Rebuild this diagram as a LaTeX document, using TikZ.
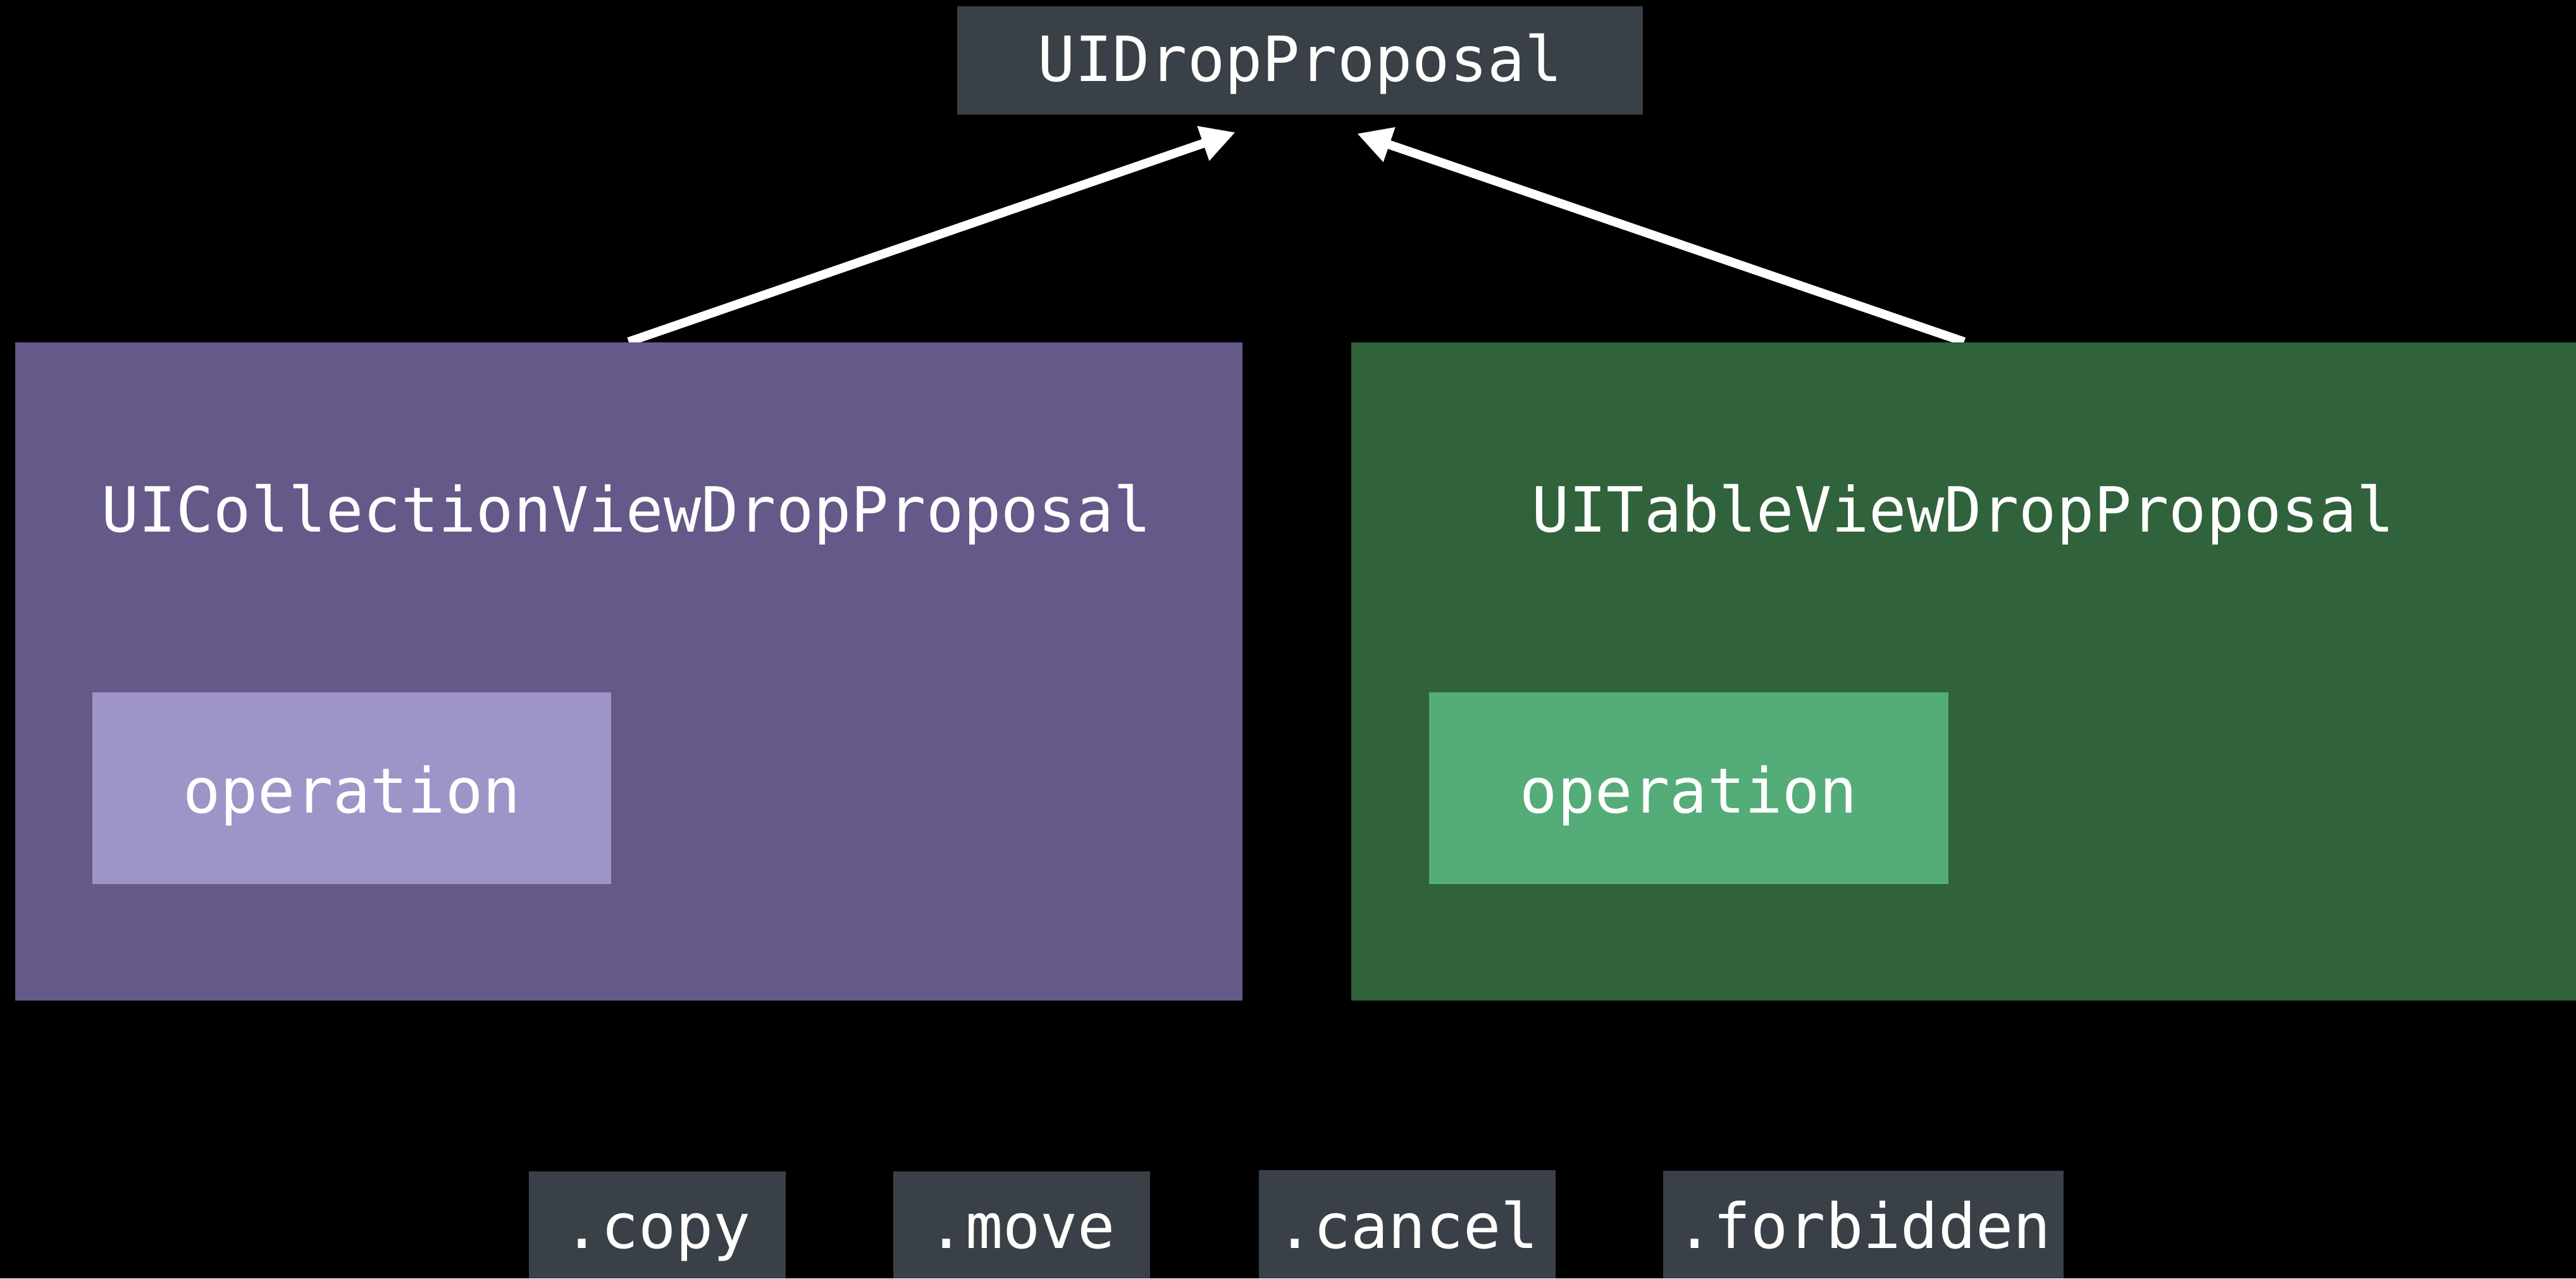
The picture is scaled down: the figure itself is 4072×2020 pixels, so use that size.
\documentclass[tikz,border=0pt]{standalone}
\usepackage{fontspec}
\newfontfamily\codefont{DejaVu Sans Mono}
\usetikzlibrary{arrows.meta,backgrounds}
\definecolor{slate}{HTML}{3A4047}
\definecolor{plum}{HTML}{655989}
\definecolor{lilac}{HTML}{9E94C8}
\definecolor{forest}{HTML}{30623B}
\definecolor{mint}{HTML}{54AC78}
\begin{document}
\begin{tikzpicture}[x=0.01cm,y=-0.01cm,
  code/.style={font=\codefont\fontsize{28pt}{34pt}\selectfont, text=white},
  tag/.style={code, fill=slate, inner sep=0pt, anchor=base},
  panel/.style={inner sep=0pt, anchor=north west},
  link/.style={white, line width=0.14cm, -{Triangle[length=0.54cm,width=0.54cm]}}
]
\useasboundingbox (0,0) rectangle (4072,2020);
\begin{scope}[on background layer]
  \fill[black] (0,0) rectangle (4072,2020);
\end{scope}

% top class
\node[tag, minimum width=10.83cm, text height=1.18cm, text depth=0.53cm] (drop) at (2055,128) {UIDropProposal};

% the two subclasses
\node[panel, fill=plum, minimum width=19.39cm, minimum height=10.40cm] (cv) at (23,540) {};
\node[panel, fill=forest, minimum width=19.37cm, minimum height=10.40cm] (tv) at (2135,540) {};
\node[code, anchor=base] (cvtitle) at (990,840) {UICollectionViewDropProposal};
\node[code, anchor=base] (tvtitle) at (3103,840) {UITableViewDropProposal};

% operation properties
\node[tag, fill=lilac, minimum width=8.20cm, text height=1.90cm, text depth=1.13cm] (cvop) at (556,1284) {operation};
\node[tag, fill=mint, minimum width=8.21cm, text height=1.90cm, text depth=1.13cm] (tvop) at (2669.5,1284) {operation};

% operation values
\node[tag, minimum width=4.06cm, text height=1.21cm, text depth=0.48cm] (copy) at (1039,1972) {.copy};
\node[tag, minimum width=4.06cm, text height=1.21cm, text depth=0.48cm] (move) at (1615,1972) {.move};
\node[tag, minimum width=4.69cm, text height=1.23cm, text depth=0.48cm] (cancel) at (2224.5,1972) {.cancel};
\node[tag, minimum width=6.33cm, text height=1.22cm, text depth=0.48cm] (forbidden) at (2945.5,1972) {.forbidden};

% inheritance arrows
\coordinate (tipL) at (1953,209);
\coordinate (tipR) at (2145,211);
\begin{scope}[on background layer]
  \draw[link] (cv.north) -- (tipL);
  \draw[link] (tv.north) -- (tipR);
\end{scope}
\end{tikzpicture}
\end{document}
